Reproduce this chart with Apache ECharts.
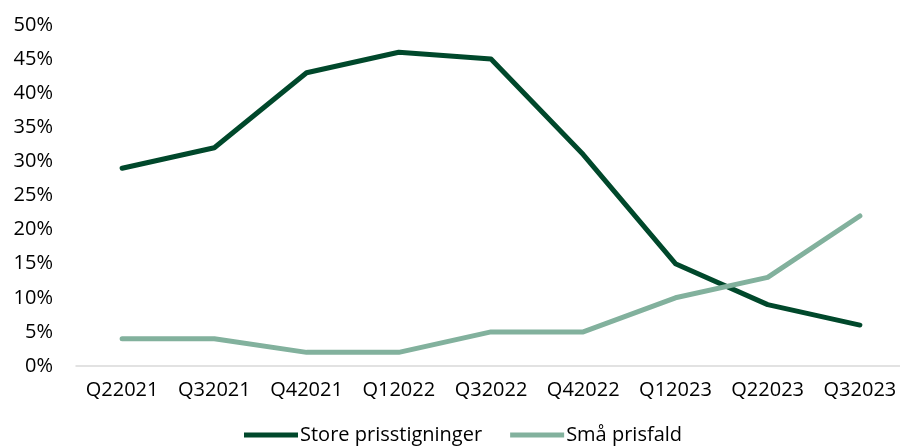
<!DOCTYPE html>
<html><head><meta charset="utf-8">
<script src="https://cdn.jsdelivr.net/npm/echarts@6/dist/echarts.min.js"></script>
<style>html,body{margin:0;padding:0;background:#fff;overflow:hidden;width:900px;height:446px}#c{width:910px;height:446px}</style>
</head><body><div id="c"></div>
<script>
const categories = ['Q22021','Q32021','Q42021','Q12022','Q32022','Q42022','Q12023','Q22023','Q32023'];
const storePrisstigninger = [29, 32, 43, 46, 45, 31, 15, 9, 6];
const smaaPrisfald = [4, 4, 2, 2, 5, 5, 10, 13, 22];
const yTicks = [0, 5, 10, 15, 20, 25, 30, 35, 40, 45, 50];

const font = '"Open Sans", "Noto Sans", sans-serif';
const chart = echarts.init(document.getElementById('c'), null, {renderer: 'canvas'});
chart.setOption({
  animation: false,
  textStyle: {fontFamily: font},
  grid: {left: 76, width: 830, top: 25, bottom: 80},
  legend: {
    left: 239, top: 420,
    icon: 'rect', itemWidth: 54, itemHeight: 5, itemGap: 28,
    textStyle: {fontFamily: font, fontSize: 20, color: '#000', padding: [0,0,0,-3]},
    data: ['Store prisstigninger', 'Små prisfald']
  },
  xAxis: {
    type: 'category', data: categories, boundaryGap: true,
    axisLine: {lineStyle: {color: '#d9d9d9', width: 1.5}},
    axisTick: {show: false},
    axisLabel: {color: '#000', fontSize: 20, fontFamily: font, margin: 14, interval: 0}
  },
  yAxis: {
    type: 'value', min: yTicks[0], max: yTicks[yTicks.length-1], interval: 5,
    axisLine: {show: false}, axisTick: {show: false}, splitLine: {show: false},
    axisLabel: {color: '#000', fontSize: 20, fontFamily: font, margin: 23, formatter: v => v + '%'}
  },
  series: [
    {name: 'Store prisstigninger', type: 'line', data: storePrisstigninger, showSymbol: false,
     itemStyle: {color: '#00482b'},
     lineStyle: {color: '#00482b', width: 5, cap: 'round', join: 'round'}},
    {name: 'Små prisfald', type: 'line', data: smaaPrisfald, showSymbol: false,
     itemStyle: {color: '#82b19d'},
     lineStyle: {color: '#82b19d', width: 5, cap: 'round', join: 'round'}}
  ]
});
</script></body></html>
